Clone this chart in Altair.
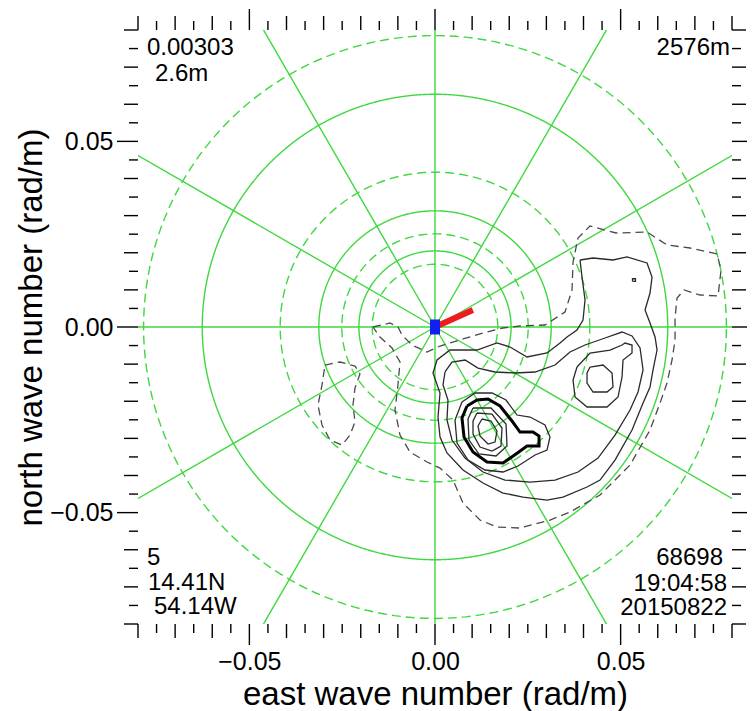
import numpy as np
import pandas as pd
import altair as alt

FONT = "Liberation Sans"
W = H = 594
K_LIM = 0.08

# ---------------- axes ----------------
axis_label_values = [-0.05, 0.0, 0.05]
x_title = "east wave number (rad/m)"
y_title = "north wave number (rad/m)"
tick_step = 0.005

# ---------------- polar grid ----------------
solid_ring_k = [0.0205, 0.0313, 0.0627]
dashed_ring_k = [0.0169, 0.0251, 0.0417, 0.0785]
spoke_deg = [0, 30, 60, 90, 120, 150, 180, 210, 240, 270, 300, 330]

# ---------------- wind / heading marker ----------------
red_tip_kx = 0.0102
red_tip_ky = 0.0046

# ---------------- corner annotations ----------------
tl_texts = ["0.00303", "2.6m"]
tr_texts = ["2576m"]
bl_texts = ["5", "14.41N", "54.14W"]
br_texts = ["68698", "19:04:58", "20150822"]

# ---------------- contours (units: 1e-3 rad/m) ----------------
p1_kx = [12.66, 15.09, 16.70, 16.16, 14.28, 12.12, 11.58]
p1_ky = [-24.78, -25.32, -28.02, -30.98, -31.52, -29.36, -26.67]

p2_kx = [11.31, 15.36, 18.05, 17.78, 15.36, 12.12, 10.24, 10.24]
p2_ky = [-23.17, -23.44, -27.21, -32.06, -33.41, -32.33, -28.83, -25.32]

p3_kx = [10.24, 15.09, 19.13, 19.40, 16.43, 11.85, 9.16, 8.89]
p3_ky = [-21.82, -21.82, -26.13, -32.06, -34.75, -34.21, -30.44, -24.78]

bold_kx = [8.62, 11.31, 14.28, 17.51, 20.74, 22.90, 26.40, 28.02, 28.02, 24.78, 21.82, 18.32, 14.01, 10.24, 7.81, 7.27]
bold_ky = [-21.28, -19.67, -19.40, -21.28, -25.32, -28.29, -28.29, -29.36, -32.06, -32.06, -34.21, -36.64, -36.37, -33.68, -29.63, -24.52]

o1_kx = [7.27, 10.78, 15.36, 19.13, 22.09, 25.59, 29.63, 30.98, 30.17, 26.94, 22.36, 18.32, 13.47, 8.89, 5.93, 5.39]
o1_ky = [-20.21, -17.78, -17.78, -19.67, -23.71, -24.25, -26.40, -29.63, -33.14, -34.48, -37.45, -39.06, -38.52, -35.83, -31.25, -25.05]

s2_kx = [2.69, 4.58, 8.08, 11.58, 16.16, 21.55, 26.94, 32.33, 36.37, 40.41, 45.80, 50.38, 53.07, 55.23, 56.04,
         54.69, 52.53, 48.49, 43.91, 38.52, 32.33, 25.59, 18.86, 12.93, 8.08, 4.58, 3.23, 3.50, 2.16]
s2_ky = [-12.12, -9.43, -8.89, -11.05, -12.12, -12.39, -12.12, -10.24, -6.74, -4.85, -2.96, -1.35, -2.42, -5.66, -11.58,
         -17.51, -22.36, -29.10, -35.29, -39.06, -41.22, -41.76, -41.22, -39.06, -35.29, -30.44, -25.05, -19.67, -15.63]

s1_kx = [39.06, 42.57, 47.95, 51.72, 57.11, 58.46, 57.92, 56.57, 57.92, 59.27, 59.81, 58.73, 57.92, 56.04, 53.07,
         48.49, 44.45, 40.95, 34.48, 30.17, 23.71, 18.32, 12.93, 7.54, 3.23, 1.35, 0.81, 1.35, -0.54, 0.54,
         4.04, 11.31, 16.70, 20.21, 24.78, 30.17, 33.68, 35.56, 38.25, 39.87, 40.41, 39.60]
s1_ky = [18.05, 18.59, 18.05, 18.86, 17.24, 13.47, 9.16, 4.58, 1.08, -2.69, -6.20, -11.58, -16.16, -20.47, -27.75,
         -35.83, -41.22, -43.10, -45.80, -46.61, -45.80, -44.72, -42.03, -38.52, -33.94, -29.63, -24.25, -17.78, -12.39, -8.89,
         -6.20, -6.20, -4.31, -5.39, -8.08, -7.00, -4.31, -2.69, -0.81, 1.89, 7.27, 13.47]

s3_kx = [38.25, 41.76, 47.15, 50.38, 51.19, 53.07, 53.07, 50.65, 50.38, 49.30, 46.34, 40.95, 37.72, 37.18]
s3_ky = [-10.78, -7.00, -6.20, -4.85, -4.31, -4.85, -7.00, -8.89, -13.47, -18.86, -21.55, -21.55, -18.86, -14.28]

s4_kx = [41.76, 45.26, 47.68, 47.95, 46.34, 42.57, 40.95, 40.95]
s4_ky = [-10.78, -10.24, -12.39, -16.16, -17.51, -17.51, -15.09, -12.39]

dot_kx = [53.2, 54.0, 54.0, 53.2]
dot_ky = [12.3, 12.3, 13.0, 13.0]

d1_kx = [-16.70, -12.12, -9.97, -8.89, -6.20, -2.16, 1.35, 7.54, 12.93, 18.32, 22.90, 29.63, 35.02, 36.91, 37.18,
         38.52, 41.76, 48.76, 57.11, 62.50, 68.70, 75.97, 77.05, 76.24, 71.39, 67.08, 65.19, 64.66, 64.66, 63.85,
         62.50, 60.62, 57.92, 52.53, 44.45, 36.37, 30.98, 22.90, 16.70, 12.12, 7.54, 4.85, 1.35, -2.16, -6.74,
         -9.43, -10.78, -9.97, -9.43, -11.58, -14.82]
d1_ky = [0.0, 1.08, 0.0, -2.16, -4.85, -6.74, -5.12, -3.23, -1.62, -0.27, 0.27, 0.54, 4.04, 9.97, 17.51,
         23.98, 27.21, 25.32, 25.59, 22.09, 21.28, 19.67, 15.36, 8.35, 8.62, 9.97, 7.81, 2.42, -3.50, -8.89,
         -15.09, -20.47, -27.75, -37.18, -45.26, -49.84, -51.99, -54.15, -53.88, -51.99, -47.41, -41.22, -37.99, -36.37, -33.68,
         -29.10, -22.36, -15.63, -9.43, -5.66, -2.69]

d2_kx = [-29.63, -25.59, -21.55, -20.21, -21.55, -22.09, -21.55, -22.90, -25.05, -28.29, -30.44, -31.52, -30.44]
d2_ky = [-10.24, -9.43, -10.51, -12.66, -16.43, -21.01, -25.59, -29.10, -31.79, -30.44, -26.40, -21.01, -15.63]

contours = {
    "p1": (p1_kx, p1_ky, "thin"),
    "p2": (p2_kx, p2_ky, "thin"),
    "p3": (p3_kx, p3_ky, "thin"),
    "bold": (bold_kx, bold_ky, "bold"),
    "o1": (o1_kx, o1_ky, "thin"),
    "s2": (s2_kx, s2_ky, "thin"),
    "s1": (s1_kx, s1_ky, "thin"),
    "s3": (s3_kx, s3_ky, "thin"),
    "s4": (s4_kx, s4_ky, "thin"),
    "dot": (dot_kx, dot_ky, "thin"),
    "d1": (d1_kx, d1_ky, "dash"),
    "d2": (d2_kx, d2_ky, "dash"),
}

# ---------------- build tables ----------------
rows = []
for cid, (xs_, ys_, style) in contours.items():
    xs_c = list(xs_) + [xs_[0]]
    ys_c = list(ys_) + [ys_[0]]
    for i, (a, b) in enumerate(zip(xs_c, ys_c)):
        rows.append({"cid": cid, "i": i, "kx": a / 1000.0, "ky": b / 1000.0, "style": style})
cont_df = pd.DataFrame(rows)

theta = np.deg2rad(np.arange(0, 361, 2))
ring_rows = []
for style, radii in (("solid", solid_ring_k), ("dashed", dashed_ring_k)):
    for r in radii:
        for i, t in enumerate(theta):
            ring_rows.append({"ring": f"{style}{r}", "i": i, "kx": r * np.cos(t), "ky": r * np.sin(t), "style": style})
ring_df = pd.DataFrame(ring_rows)

spoke_len = 0.2
spoke_df = pd.DataFrame({
    "a": spoke_deg,
    "kx": [0.0] * len(spoke_deg),
    "ky": [0.0] * len(spoke_deg),
    "x1": [spoke_len * np.cos(np.deg2rad(a)) for a in spoke_deg],
    "y1": [spoke_len * np.sin(np.deg2rad(a)) for a in spoke_deg],
})

n_half = int(round(K_LIM / tick_step))
tick_idx = np.arange(-n_half, n_half + 1)
tick_df = pd.DataFrame({
    "kx": np.round(tick_idx * tick_step, 4),
    "cls": np.where(tick_idx % 10 == 0, 2, np.where(tick_idx % 2 == 0, 1, 0)),
})
tick_df["ky"] = tick_df["kx"]

xs = alt.Scale(domain=[-K_LIM, K_LIM], nice=False, zero=False)
ys = alt.Scale(domain=[-K_LIM, K_LIM], nice=False, zero=False)

GREEN = "#3fd83f"

x_axis = alt.Axis(values=axis_label_values, format=".2f", ticks=False, domain=False, grid=False,
                  labelFont=FONT, labelFontSize=25, labelColor="black", labelPadding=25,
                  titleFont=FONT, titleFontSize=33, titleFontWeight="normal",
                  titleColor="black", titlePadding=4)
y_axis = alt.Axis(values=axis_label_values, format=".2f", ticks=False, domain=False, grid=False,
                  labelFont=FONT, labelFontSize=25, labelColor="black", labelPadding=25,
                  titleFont=FONT, titleFontSize=33, titleFontWeight="normal",
                  titleColor="black", titlePadding=1)


def X(field="kx"):
    return alt.X(f"{field}:Q", scale=xs, axis=x_axis, title=x_title)


def Y(field="ky"):
    return alt.Y(f"{field}:Q", scale=ys, axis=y_axis, title=y_title)


layers = []

# spokes
layers.append(
    alt.Chart(spoke_df).mark_rule(color=GREEN, strokeWidth=1.4, clip=True).encode(
        x=X(), y=Y(), x2="x1:Q", y2="y1:Q")
)

# rings
for style, dash in (("solid", [1, 0]), ("dashed", [9, 5])):
    layers.append(
        alt.Chart(ring_df).transform_filter(f"datum.style == '{style}'")
        .mark_line(color=GREEN, strokeWidth=1.4, strokeDash=dash, clip=True)
        .encode(x=X(), y=Y(), order="i:Q", detail="ring:N")
    )

# contours
cstyles = {"dash": dict(color="#4a4a4a", strokeWidth=1.3, strokeDash=[8, 5]),
           "thin": dict(color="#2a2a2a", strokeWidth=1.3),
           "bold": dict(color="#000000", strokeWidth=3.0)}
for style, props in cstyles.items():
    layers.append(
        alt.Chart(cont_df).transform_filter(f"datum.style == '{style}'")
        .mark_line(clip=True, **props)
        .encode(x=X(), y=Y(), order="i:Q", detail="cid:N")
    )

# red heading line and blue square
red_df = pd.DataFrame({"kx": [0.0], "ky": [0.0], "x1": [red_tip_kx], "y1": [red_tip_ky]})
layers.append(
    alt.Chart(red_df).mark_rule(color="#ee1c1c", strokeWidth=6).encode(
        x=X(), y=Y(), x2="x1:Q", y2="y1:Q")
)
layers.append(
    alt.Chart(pd.DataFrame({"kx": [0.0], "ky": [0.0]})).mark_point(
        shape="M-0.67,-1L0.67,-1L0.67,1L-0.67,1Z", filled=True, size=225, color="#1020f0", opacity=1
    ).encode(x=X(), y=Y())
)

# axis ticks drawn as rules (outward, three lengths)
tick_len = {0: 9, 1: 14, 2: 21}
for cls, L in tick_len.items():
    base = alt.Chart(tick_df).transform_filter(f"datum.cls == {cls}")
    rule = dict(color="black", strokeWidth=1.4)
    layers.append(base.mark_rule(**rule).encode(x=X(), y=alt.value(H), y2=alt.value(H + L)))
    layers.append(base.mark_rule(**rule).encode(x=X(), y=alt.value(0), y2=alt.value(-L)))
    layers.append(base.mark_rule(**rule).encode(y=Y(), x=alt.value(0), x2=alt.value(-L)))
    layers.append(base.mark_rule(**rule).encode(y=Y(), x=alt.value(W), x2=alt.value(W + L)))


def label(txt, x, y, align):
    return alt.Chart(pd.DataFrame({"t": [txt]})).mark_text(
        font=FONT, fontSize=24, color="black", align=align, baseline="middle"
    ).encode(text="t:N", x=alt.value(x), y=alt.value(y))


layers.append(label(tl_texts[0], 9, 18, "left"))
layers.append(label(tl_texts[1], 17, 44, "left"))
layers.append(label(tr_texts[0], 592, 18, "right"))
layers.append(label(bl_texts[0], 9, 528, "left"))
layers.append(label(bl_texts[1], 10, 553, "left"))
layers.append(label(bl_texts[2], 16, 577, "left"))
layers.append(label(br_texts[0], 585, 528, "right"))
layers.append(label(br_texts[1], 589, 554, "right"))
layers.append(label(br_texts[2], 589, 578, "right"))

chart = alt.layer(*layers).properties(
    width=W, height=H,
    autosize=alt.AutoSizeParams(type="none"),
    padding={"left": 130, "top": 22, "right": 15, "bottom": 100},
).configure_view(stroke=None)

chart.save("out.html", embed_options={"renderer": "svg", "actions": False})
